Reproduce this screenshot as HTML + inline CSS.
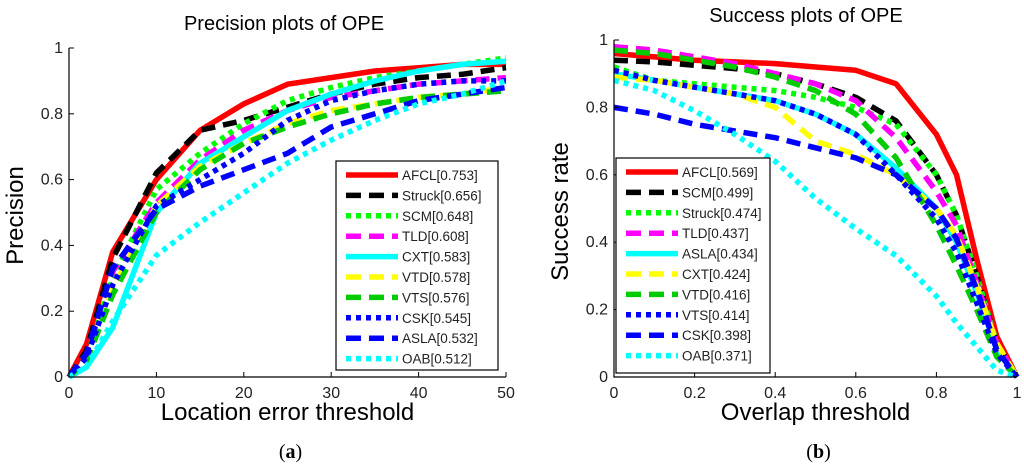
<!DOCTYPE html>
<html><head><meta charset="utf-8"><style>
body{margin:0;background:#fff;width:1024px;height:469px;overflow:hidden}
svg{font-family:"Liberation Sans",sans-serif}
</style></head><body>
<svg id="c" width="1024" height="469"></svg>
<script>
const names1=["AFCL[0.753]","Struck[0.656]","SCM[0.648]","TLD[0.608]","CXT[0.583]","VTD[0.578]","VTS[0.576]","CSK[0.545]","ASLA[0.532]","OAB[0.512]"];
const styles1=[["#f00","s"],["#000","d"],["#0f0","o"],["#f0f","d"],["#0ff","s"],["#ff0","d"],["#0c0","d"],["#00f","o"],["#00f","d"],["#0ff","o"]];
const xs1=[0,2,5,10,15,20,25,30,35,40,45,50];
const p_AFCL=[0,0.1,0.38,0.6,0.75,0.83,0.89,0.91,0.93,0.94,0.95,0.95];
const p_Struck=[0,0.08,0.36,0.62,0.75,0.78,0.82,0.86,0.89,0.91,0.92,0.94];
const p_SCM=[0,0.06,0.3,0.57,0.68,0.77,0.84,0.88,0.91,0.93,0.95,0.97];
const p_TLD=[0,0.07,0.32,0.53,0.66,0.75,0.81,0.85,0.87,0.89,0.9,0.91];
const p_CXT=[0,0.03,0.15,0.5,0.65,0.73,0.81,0.86,0.9,0.93,0.95,0.96];
const p_VTD=[0,0.05,0.27,0.52,0.64,0.71,0.77,0.81,0.83,0.85,0.86,0.88];
const p_VTS=[0,0.05,0.25,0.5,0.63,0.71,0.76,0.8,0.83,0.85,0.86,0.87];
const p_CSK=[0,0.06,0.28,0.52,0.6,0.68,0.78,0.84,0.87,0.89,0.9,0.9];
const p_ASLA=[0,0.07,0.33,0.51,0.58,0.63,0.68,0.76,0.8,0.84,0.86,0.88];
const p_OAB=[0,0.03,0.17,0.37,0.47,0.56,0.65,0.72,0.78,0.83,0.86,0.9];
const names2=["AFCL[0.569]","SCM[0.499]","Struck[0.474]","TLD[0.437]","ASLA[0.434]","CXT[0.424]","VTD[0.416]","VTS[0.414]","CSK[0.398]","OAB[0.371]"];
const styles2=[["#f00","s"],["#000","d"],["#0f0","o"],["#f0f","d"],["#0ff","s"],["#ff0","d"],["#0c0","d"],["#00f","o"],["#00f","d"],["#0ff","o"]];
const xs2=[0,0.1,0.2,0.3,0.4,0.5,0.6,0.7,0.8,0.85,0.9,0.95,1];
const s_AFCL=[.96,.95,.94,.935,.93,.92,.91,.87,.72,.6,.35,.12,0];
const s_SCM=[.94,.935,.925,.915,.9,.87,.83,.76,.6,.48,.3,.1,0];
const s_Struck=[.92,.88,.87,.86,.85,.83,.8,.75,.6,.48,.3,.1,0];
const s_TLD=[.98,.97,.95,.93,.9,.87,.82,.71,.55,.45,.28,.1,0];
const s_ASLA=[.9,.88,.86,.84,.82,.78,.72,.62,.5,.4,.25,.08,0];
const s_CXT=[.89,.88,.86,.84,.8,.7,.66,.6,.5,.42,.27,.1,0];
const s_VTD=[.97,.96,.94,.92,.89,.85,.78,.65,.45,.33,.2,.06,0];
const s_VTS=[.91,.88,.86,.84,.82,.78,.72,.6,.47,.37,.22,.07,0];
const s_CSK=[.8,.78,.75,.73,.71,.68,.65,.6,.5,.41,.26,.08,0];
const s_OAB=[.88,.85,.79,.72,.64,.53,.44,.36,.24,.16,.09,.02,0];
const series1=[p_AFCL,p_Struck,p_SCM,p_TLD,p_CXT,p_VTD,p_VTS,p_CSK,p_ASLA,p_OAB];
const series2=[s_AFCL,s_SCM,s_Struck,s_TLD,s_ASLA,s_CXT,s_VTD,s_VTS,s_CSK,s_OAB];
const xt1=["0","10","20","30","40","50"], xt2=["0","0.2","0.4","0.6","0.8","1"];
const yt=["0","0.2","0.4","0.6","0.8","1"];

const svg=document.getElementById('c');const NS="http://www.w3.org/2000/svg";
function el(t,a,txt,p){const e=document.createElementNS(NS,t);for(const k in a)e.setAttribute(k,a[k]);if(txt!==undefined)e.textContent=txt;(p||svg).appendChild(e);return e;}
function dash(s){return s==="d"?"14,8":s==="o"?"5,5":"none";}
function panel(cfg){
  const {x0,x1,y0,y1,xmax,xs,series,names,styles,xt,title,xl,yl,tag,legend,tpos,key}=cfg;
  const g=el('g',{});
  
  
  const X=v=>x0+(x1-x0)*v/xmax, Y=v=>y0-(y0-y1)*v;
  series.forEach((d,i)=>{
    const pts=xs.map((v,j)=>X(v).toFixed(1)+","+Y(d[j]).toFixed(1)).join(" ");
    const pl=el('polyline',{points:pts,fill:"none",stroke:styles[i][0],"stroke-width":5.5,"stroke-dasharray":dash(styles[i][1]),"stroke-linejoin":"round"},undefined,g);
    
    
  });
  const ax=el('path',{d:`M${x0},${y1}V${y0}H${x1}`,fill:"none",stroke:"#000","stroke-width":1.2},undefined,g);
  
  
  xt.forEach((t,i)=>{const px=x0+(x1-x0)*i/(xt.length-1);
    el('line',{x1:px,x2:px,y1:y0,y2:y0-5,stroke:"#000"},undefined,g);
    const tt=el('text',{x:px,y:y0+21,"text-anchor":"middle","font-size":16,fill:"#222"},t,g);
    
    });
  yt.forEach((t,i)=>{const py=Y(i/5);
    el('line',{x1:x0,x2:x0+5,y1:py,y2:py,stroke:"#000"},undefined,g);
    const tt=el('text',{x:x0-6,y:py+5,"text-anchor":"end","font-size":16,fill:"#222"},t,g);
    
    });
  const ti=el('text',{x:tpos[0],y:tpos[1],"text-anchor":"middle","font-size":20},title,g);
  
  
  const xlab=el('text',{x:(x0+x1)/2,y:y0+43,"text-anchor":"middle","font-size":24},xl,g);
  
  
  const ylab=el('text',{x:0,y:0,"text-anchor":"middle","font-size":24,transform:`translate(${x0-46},${(y0+y1)/2+3}) rotate(-90)`},yl,g);
  
  
  const tg=el('text',{x:(x0+x1)/2+3,y:458,"text-anchor":"middle","font-size":20,"font-family":"Liberation Serif,serif"},"",g);
  tg.innerHTML=`(<tspan font-weight="bold">${tag}</tspan>)`;
  
  
  const [lx,ly,lw,lh]=legend;
  const lg=el('g',{},undefined,g);
  
  
  el('rect',{x:lx,y:ly,width:lw,height:lh,fill:"#fff",stroke:"#000","stroke-width":1.2},undefined,lg);
  names.forEach((n,i)=>{const py=ly+14+i*20.4;
    const ent=el('g',{},undefined,lg);
    
    
    el('line',{x1:lx+10,x2:lx+62,y1:py,y2:py,stroke:styles[i][0],"stroke-width":5.5,"stroke-dasharray":styles[i][1]==="d"?"15,8":styles[i][1]==="o"?"5,5":"none"},undefined,ent);
    el('text',{x:lx+66,y:py+5,"font-size":13.5,fill:"#222"},n,ent);});
  svg.appendChild(g);
}
panel({key:"precision",x0:69,x1:506,y0:377,y1:48,xmax:50,xs:xs1,series:series1,names:names1,styles:styles1,xt:xt1,title:"Precision plots of OPE",xl:"Location error threshold",yl:"Precision",tag:"a",legend:[336,161,162,209],tpos:[284,30]});
panel({key:"success",x0:614,x1:1017,y0:377,y1:40,xmax:1,xs:xs2,series:series2,names:names2,styles:styles2,xt:xt2,title:"Success plots of OPE",xl:"Overlap threshold",yl:"Success rate",tag:"b",legend:[616,158,154,215],tpos:[806,22]});
</script>
</body></html>
